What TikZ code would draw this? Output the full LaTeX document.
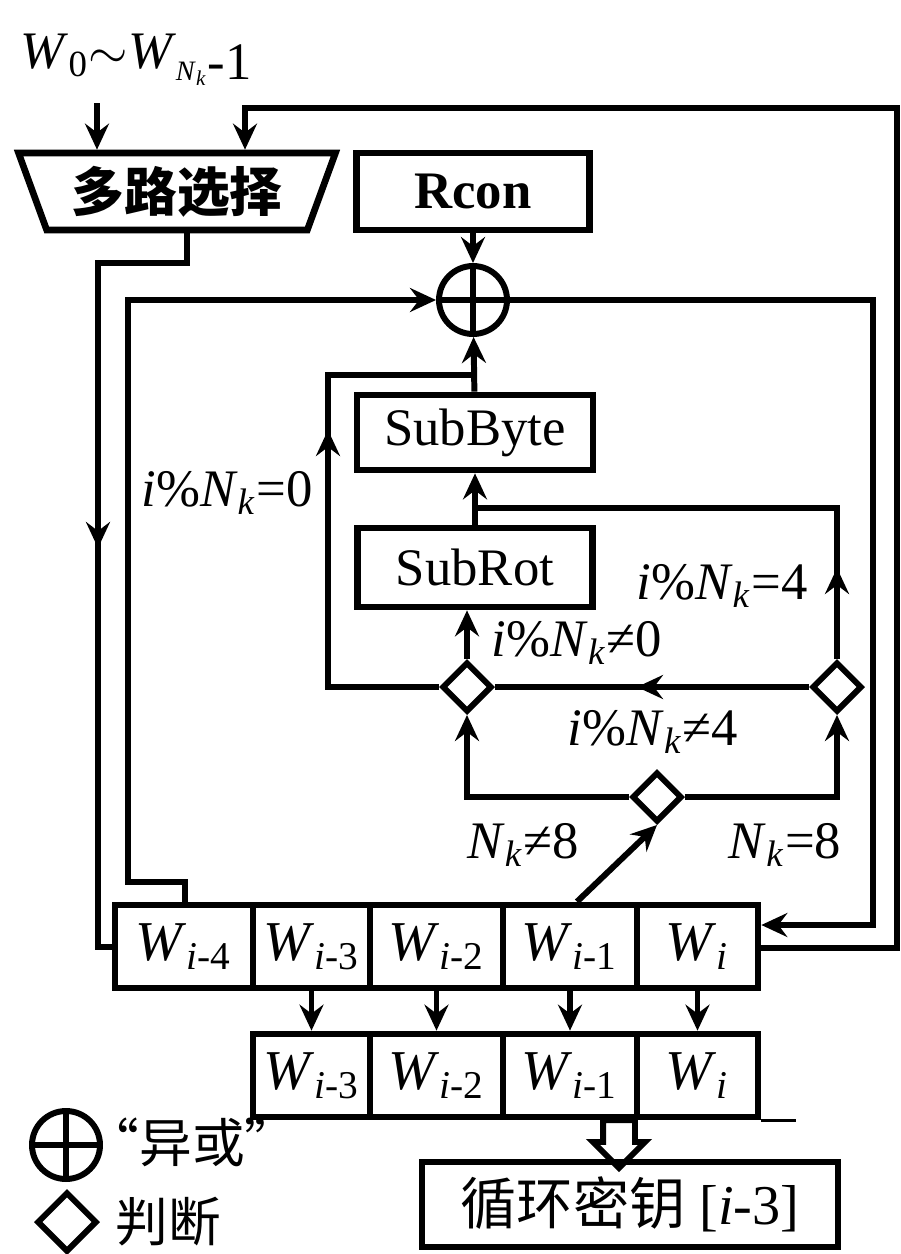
\documentclass[tikz,border=0pt]{standalone}
\usepackage{fontspec}
\setmainfont{Liberation Serif}
\newfontfamily\cjk{Noto Sans CJK SC}
\usetikzlibrary{positioning, arrows.meta, shapes.geometric, shapes.arrows}

\newcommand{\Nk}{\textit{N}\textsubscript{\textit{k}}}
\newcommand{\Wsub}[1]{\textit{W}\textsubscript{#1}}

\begin{document}
\begin{tikzpicture}[x=0.1mm, y=-0.1mm,
    box/.style={rectangle, draw, line width=1.9pt, inner sep=0pt, font=\fontsize{15}{16}\selectfont},
    cell/.style={box, minimum height=8.3mm, minimum width=#1, font=\fontsize{16}{17}\selectfont},
    dia/.style={diamond, draw, line width=1.7pt, minimum size=5mm, inner sep=0pt},
    xorc/.style={circle, draw, line width=1.7pt, minimum size=6.8mm, inner sep=0pt},
    arr/.style={-{Stealth[length=2.6mm, width=2.4mm, inset=0.9mm]}, line width=1.7pt},
    ln/.style={line width=1.7pt},
    lbl/.style={font=\fontsize{15}{16}\selectfont, inner sep=0pt},
]
\useasboundingbox (0,0) rectangle (901,1254);

% input and selector
\node[lbl] (inlbl) at (136,60)
    {\Wsub{0}$\sim$\textit{W}\raisebox{-0.5ex}{\footnotesize\Nk}\raisebox{-0.45ex}{-1}};
\node[trapezium, draw, line width=1.9pt, shape border rotate=180, trapezium angle=66,
      trapezium stretches=true, minimum width=31.7mm, minimum height=7.7mm, inner sep=0pt,
      font=\cjk\bfseries\fontsize{15}{16}\selectfont] (mux) at (177,191.5) {多路选择};
\node[box, minimum width=23.3mm, minimum height=7.7mm, font=\bfseries\fontsize{15}{16}\selectfont] (rcon) at (473,191.5) {Rcon};

% xor
\node[xorc] (xor) at (473,300) {};
\draw[ln] (xor.north) -- (xor.south);
\draw[ln] (xor.west) -- (xor.east);

% sub blocks
\node[box, minimum width=23.6mm, minimum height=7.5mm] (sbyte) at (475,432.5) {SubByte};
\node[box, minimum width=23.5mm, minimum height=7.9mm] (srot) at (475,567.5) {SubRot};

% decisions
\node[dia] (dl) at (467,687) {};
\node[dia] (dr) at (837,687) {};
\node[dia] (db) at (657,797) {};

% word registers
\foreach \n/\x/\w/\s in {A/184/13.8mm/{\textit{i}-4}, B/311.5/11.7mm/{\textit{i}-3},
    C/436.5/13.3mm/{\textit{i}-2}, D/570/13.4mm/{\textit{i}-1}, E/697.5/12.1mm/{\textit{i}}}
  \node[cell=\w] (w\n) at (\x,946.5) {\Wsub{\s}};
\foreach \n/\x/\w/\s in {B/311.5/11.7mm/{\textit{i}-3}, C/436.5/13.3mm/{\textit{i}-2},
    D/570/13.4mm/{\textit{i}-1}, E/697.5/12.1mm/{\textit{i}}}
  \node[cell=\w] (v\n) at (\x,1075.5) {\Wsub{\s}};
\foreach \n in {B,C,D,E}
  \draw[arr] (w\n) -- (v\n);
\draw[line width=1pt] (vE.south east) -- ++(35,0);

% round key
\node[single arrow, draw, line width=1.7pt, shape border rotate=270, minimum height=3.9mm,
      minimum width=4.6mm, inner sep=1.3mm, single arrow head extend=1mm] (oarr) at (619,1136) {};
\node[box, minimum width=41.6mm, minimum height=8.5mm, font=\fontsize{16}{17}\selectfont] (key) at (630,1204.5)
    {{\cjk 循环密钥} [\textit{i}-3]};

% coordinates
\coordinate (in0) at (97,103);
\coordinate (fbtop) at (245,108);
\coordinate (ox) at (897,0);
\coordinate (rx) at (873,0);
\coordinate (rout) at ([yshift=-0.15mm]wE.east);
\coordinate (rin) at ([yshift=2.15mm]wE.east);
\coordinate (mxo) at (187,263);
\coordinate (lx) at (98,0);
\coordinate (m1) at (98,548);
\coordinate (tab) at (185,882);
\coordinate (lx2) at (128,0);
\coordinate (lj) at (473,375);
\coordinate (ix) at (328,0);
\coordinate (m2) at (328,430);
\coordinate (rj) at (473,508);
\coordinate (m3) at (837,568);
\coordinate (m4) at (637,687);

% arrows
\draw[arr] (in0) -- (in0 |- mux.north);
\draw[arr] (rout) -- (rout -| ox) -- (ox |- fbtop) -- (fbtop) -- (fbtop |- mux.north);
\draw[arr] (xor.east) -- (xor.east -| rx) -- (rx |- rin) -- (rin);
\draw[ln] (mxo |- mux.south) -- (mxo) -- (mxo -| lx) |- (wA.west);
\draw[arr] (mxo -| lx) -- (m1);
\draw[arr] (tab |- wA.north) -- (tab) -- (tab -| lx2) -- (lx2 |- xor.west) -- (xor.west);
\draw[arr] (rcon) -- (xor);
\draw[arr] (sbyte) -- (xor);
\draw[arr] (srot) -- (sbyte);
\draw[ln] (dl.west) -- (dl.west -| ix) |- (lj);
\draw[arr] (dl.west -| ix) -- (m2);
\draw[ln] (dr.north) |- (rj);
\draw[arr] (dr.north) -- (m3);
\draw[arr] (dl.north) -- (dl.north |- srot.south);
\draw[ln] (dr.west) -- (dl.east);
\draw[arr] (dr.west) -- (m4);
\draw[arr] (db.west) -| (dl.south);
\draw[arr] (db.east) -| (dr.south);
\draw[arr] ([xshift=0.7mm]wD.north) -- (db.south);

% conditions
\node[lbl] (c0) at (227,493) {\textit{i}\%\Nk=0};
\node[lbl] (c4) at (722,586) {\textit{i}\%\Nk=4};
\node[lbl] (n0) at (577,643) {\textit{i}\%\Nk≠0};
\node[lbl] (n4) at (653,732) {\textit{i}\%\Nk≠4};
\node[lbl] (n8) at (523,845) {\Nk≠8};
\node[lbl] (e8) at (785,845) {\Nk=8};

% legend
\node[xorc] (lgx) at (66,1145) {};
\draw[ln] (lgx.north) -- (lgx.south);
\draw[ln] (lgx.west) -- (lgx.east);
\node[lbl, anchor=west, font=\cjk\fontsize{15}{16}\selectfont] (lgxt) at (86,1142) {“异或”};
\node[dia, minimum size=6mm] (lgd) at (67,1222) {};
\node[lbl, anchor=west, font=\cjk\fontsize{15}{16}\selectfont] (lgdt) at (115,1222) {判断};

\end{tikzpicture}
\end{document}
